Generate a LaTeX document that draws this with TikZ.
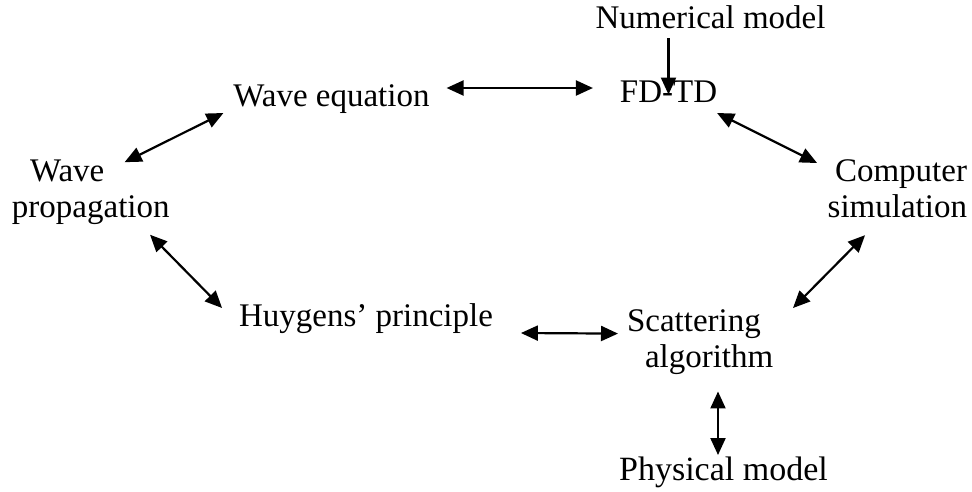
\documentclass[tikz,border=0pt]{standalone}
\usepackage{fontspec}
\setmainfont{Liberation Serif}
\usetikzlibrary{arrows.meta}
\begin{document}
\begin{tikzpicture}[x=1pt,y=-1pt,
  lbl/.style={inner sep=0pt, outer sep=0pt, font=\fontsize{33}{36}\selectfont},
  one/.style={lbl, anchor=base, text height=22pt, text depth=7pt},
  tip/.tip={Triangle[length=17pt,width=15pt]},
  dbl/.style={tip-tip, line width=2.2pt},
  sgl/.style={-tip, line width=2.2pt}]
\useasboundingbox (0,0) rectangle (972,491);
% single-line labels
\node[one] (num)  at (710.5,28)  {Numerical model};
\node[one] (fdtd) at (668.5,102) {FD-TD};
\node[one] (weq)  at (331.5,106) {Wave equation};
\node[one] (huy)  at (366,326)   {Huygens’ principle};
\node[one, font=\fontsize{34}{36}\selectfont] (phys) at (723.5,480) {Physical model};
% two-line labels
\node[lbl, align=left, anchor=north west] (wprop) at (12,160.2) {\hspace*{18pt}Wave\\propagation};
\node[lbl, align=right, anchor=north east] (comp) at (967,160) {Computer\\simulation};
\node[lbl, align=left, anchor=north west] (scat) at (627,309.7) {Scattering\\\hspace*{18pt}algorithm};
% connectors
\draw[dbl] ([shift={(17,-10.5)}]weq.east) -- ([shift={(-27,-6.5)}]fdtd.west);
\draw[sgl] ([shift={(-42,3)}]num.south) -- (fdtd.center);
\draw[dbl] ([shift={(-45,2)}]wprop.north east) -- ([shift={(-10,14.5)}]weq.west);
\draw[dbl] ([shift={(0,4)}]fdtd.south east) -- ([shift={(-10.6,3)}]comp.north west);
\draw[dbl] ([shift={(-19.6,9.8)}]wprop.south east) -- ([shift={(-17,-10.5)}]huy.west);
\draw[dbl] ([shift={(37.4,17)}]comp.south west) -- ([shift={(19.7,-1.7)}]scat.north east);
\draw[dbl] ([shift={(28,14.5)}]huy.east) -- ([shift={(-9,-8.6)}]scat.west);
\draw[dbl] ([shift={(91,16.8)}]scat.south west) -- ([shift={(-5.5,-3)}]phys.north);
\end{tikzpicture}
\end{document}
